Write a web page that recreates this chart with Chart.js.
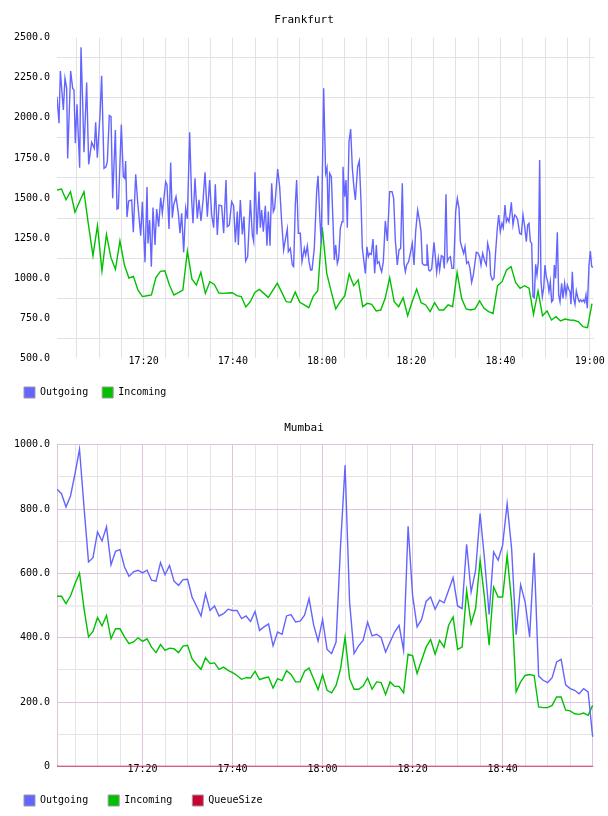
<!DOCTYPE html>
<html><head><meta charset="utf-8">
<script src="https://cdn.jsdelivr.net/npm/chart.js@4.4.1/dist/chart.umd.min.js"></script>
<style>
html,body{margin:0;padding:0;background:#fff;}
.box{position:relative;width:608px;height:408px;}
canvas{display:block;}
</style></head>
<body>
<div class="box"><canvas id="c1" width="608" height="408"></canvas></div>
<div class="box"><canvas id="c2" width="608" height="408"></canvas></div>
<script>
// ---------- Frankfurt ----------
// Outgoing: minutes after 17:00 and values
const fraOutTimes = [
0.58,1.03,1.33,2.00,2.37,2.75,2.97,3.64,4.09,4.39,
4.69,5.06,5.66,5.96,6.33,6.63,7.23,7.68,8.35,8.95,
9.25,9.62,10.22,10.59,11.12,11.56,11.86,12.31,12.69,13.06,
13.66,14.03,14.33,15.00,15.45,15.75,15.97,16.27,16.65,17.32,
17.69,18.22,18.66,19.34,19.71,20.31,20.76,20.98,21.35,21.73,
22.10,22.55,22.92,23.37,23.82,24.19,24.94,25.24,25.69,26.06,
26.43,26.73,27.26,27.78,28.15,28.53,28.98,29.42,29.80,30.32,
30.77,31.07,31.51,32.04,32.41,32.86,33.31,33.76,34.28,34.80,
35.25,35.70,36.07,36.52,36.89,37.49,37.94,38.46,38.76,39.21,
39.73,40.18,40.56,41.00,41.23,41.68,42.13,42.50,42.87,43.32,
43.92,44.37,44.67,44.96,45.41,45.86,46.16,46.46,46.83,47.28,
47.65,47.95,48.33,48.70,49.07,49.37,50.05,50.49,50.94,51.39,
51.69,52.21,52.44,52.88,53.33,53.63,54.00,54.30,54.68,55.13,
55.50,56.02,56.32,56.70,57.07,57.44,57.74,58.26,58.79,59.09,
59.54,59.83,60.36,60.80,
61.11,61.41,61.70,62.08,62.45,62.75,63.05,63.42,63.72,64.10,
64.47,64.69,65.07,65.37,65.66,66.04,66.41,66.79,67.16,67.46,
67.98,68.35,68.73,69.03,69.48,69.70,70.07,70.37,70.67,71.04,
71.42,71.79,72.17,72.39,72.76,73.06,73.36,73.73,74.18,74.63,
75.15,75.68,76.05,76.42,76.87,77.25,77.62,77.99,78.37,78.67,
78.96,79.41,79.86,80.23,80.61,80.98,81.43,81.88,82.18,82.48,
82.85,83.30,83.52,83.90,84.19,84.57,85.09,85.39,85.69,86.06,
86.36,86.74,87.11,87.41,87.78,88.08,88.38,88.75,89.13,89.50,
89.95,90.32,90.70,91.00,91.37,91.74,92.04,92.41,92.79,93.16,
93.53,93.91,94.21,94.58,94.95,95.33,95.63,96.00,96.45,96.82,
97.12,97.57,97.79,98.17,98.54,98.91,99.29,99.59,99.96,100.33,
100.63,101.01,101.31,101.60,101.90,102.20,102.43,102.80,103.17,103.55,
103.85,104.29,104.67,105.04,105.42,105.79,106.09,106.39,106.69,106.99,
107.28,107.58,107.88,108.18,108.48,108.78,109.08,109.38,109.68,109.97,
110.27,110.57,110.87,111.17,111.47,111.77,112.07,112.36,112.74,113.04,
113.34,113.71,114.01,114.38,114.68,114.98,115.28,115.58,115.80,116.10,
116.40,116.70,117.00,117.37,117.67,117.97,118.27,118.57,118.87,119.16,
119.46,119.84,120.14,120.44,120.73
];
const fraOutgoing = [
2132,1966,2292,2049,2246,2184,1747,2292,2184,2174,
1841,2084,1689,2440,2101,1785,2221,1710,1847,1810,
1972,1752,2018,2263,1685,1695,1727,2014,2007,1498,
1924,1431,1436,1959,1633,1623,1731,1381,1481,1488,
1286,1648,1477,1265,1477,1099,1569,1217,1363,1072,
1440,1207,1431,1321,1502,1404,1602,1581,1307,1722,
1377,1456,1508,1404,1280,1404,1161,1436,1369,1910,
1488,1342,1623,1373,1488,1357,1481,1660,1384,1612,
1394,1315,1585,1269,1456,1452,1280,1612,1321,1332,
1477,1452,1223,1415,1207,1488,1273,1384,1107,1134,
1488,1269,1228,1660,1273,1540,1315,1425,1290,1452,
1203,1415,1203,1592,1415,1436,1681,1571,1352,1176,
1228,1307,1165,1186,1082,1072,1456,1612,1280,1280,
1103,1186,1144,1201,1103,1051,1051,1186,1540,1639,
1352,1217,2184,1654,
1689,1332,1654,1633,1352,1113,1207,1092,1124,1311,
1352,1695,1508,1612,1315,1851,1930,1685,1560,1488,
1695,1731,1477,1186,1082,1030,1196,1134,1155,1149,
1244,1030,1207,1092,1103,1065,1040,1103,1357,1232,
1540,1540,1498,1238,1082,1176,1186,1592,1092,1040,
1082,1103,1165,1217,1082,1290,1425,1352,1290,1092,
1082,1082,1211,1051,1045,1057,1223,1134,1036,1124,
1051,1140,1134,1061,1523,1103,1124,1134,1061,1061,
1415,1498,1436,1228,1190,1155,1196,1092,1103,1061,
974,1020,1082,1161,1157,1134,1082,1155,1107,1082,
1217,1161,1020,989,999,1165,1311,1394,1290,1342,
1315,1456,1352,1373,1352,1415,1473,1332,1394,1384,
1363,1280,1273,1394,1321,1228,1332,1342,1228,1217,
885,878,1086,1020,1103,1737,978,885,937,1082,
1009,978,916,978,853,864,1082,999,1286,895,
853,968,874,968,895,957,932,916,837,1040,
874,837,920,874,853,864,853,864,849,895,
812,1082,1169,1072,1068
];
// Incoming: sampled about once a minute from 17:00:35
const fraInStart = 0.58, fraInStep = 1.0078;
const fraIncoming = [
1550,1556,1489,1539,1411,1477,1539,1332,1140,1328,
1045,1273,1128,1055,1232,1082,1001,1011,926,885,
890,895,1003,1042,1046,957,895,910,926,1169,
995,957,1036,905,978,961,907,905,907,909,
891,885,820,853,911,930,905,880,924,968,
911,853,849,913,849,833,816,887,922,1317,
1030,916,808,853,889,1026,953,989,822,843,
837,795,801,874,1003,853,822,878,766,853,
932,847,833,791,847,801,801,833,822,1036,
874,808,801,808,858,812,791,780,953,978,
1051,1072,974,937,953,937,774,920,766,795,
739,760,733,745,739,737,728,697,691,841
];

// ---------- Mumbai ----------
const mumStart = 1.0, mumStep = 1.0;
const mumOutgoing = [
862,848,807,841,910,986,807,636,649,729,
701,745,627,669,674,620,591,605,610,602,
610,579,576,634,596,625,576,563,581,582,
527,498,468,537,485,499,468,475,489,485,
485,460,468,451,482,423,434,443,375,418,
411,468,472,449,452,470,522,441,390,457,
364,351,387,688,936,511,351,375,392,449,
406,411,401,356,387,418,439,361,747,532,
434,457,513,527,489,517,509,548,587,499,
491,691,542,610,786,641,473,667,641,688,
817,677,410,565,511,403,664,281,268,261,
276,325,333,254,242,237,226,242,232,92
];
const mumIncoming = [
529,529,506,530,568,601,491,403,420,463,
437,470,397,428,428,403,382,387,400,389,
397,371,354,379,361,368,366,354,374,377,
335,317,302,338,320,322,302,309,299,292,
283,271,276,275,296,270,275,278,244,273,
267,298,286,263,263,296,306,273,239,285,
237,229,252,304,402,273,240,240,250,275,
240,263,261,224,263,249,249,229,349,344,
289,330,371,395,349,392,371,439,465,364,
371,546,444,491,641,522,377,558,527,527,
656,511,232,263,283,286,283,185,183,183,
190,216,216,175,173,164,162,166,159,190
];
const mumQueueSize = [
0,0,0,0,0,0,0,0,0,0, 0,0,0,0,0,0,0,0,0,0,
0,0,0,0,0,0,0,0,0,0, 0,0,0,0,0,0,0,0,0,0,
0,0,0,0,0,0,0,0,0,0, 0,0,0,0,0,0,0,0,0,0,
0,0,0,0,0,0,0,0,0,0, 0,0,0,0,0,0,0,0,0,0,
0,0,0,0,0,0,0,0,0,0, 0,0,0,0,0,0,0,0,0,0,
0,0,0,0,0,0,0,0,0,0, 0,0,0,0,0,0,0,0,0,0
];

// tick labels
const fraXLabels = ['17:20','17:40','18:00','18:20','18:40','19:00'];
const mumXLabels = ['17:20','17:40','18:00','18:20','18:40'];
const fraYLabels = ['500.0','750.0','1000.0','1250.0','1500.0','1750.0','2000.0','2250.0','2500.0'];
const mumYLabels = ['0','200.0','400.0','600.0','800.0','1000.0'];

const COL_OUT = '#6464ff', COL_IN = '#00c000', COL_Q = '#cc0033';
const FONT = "'DejaVu Sans Mono', monospace";

function fmtTime(m) {
  const t = Math.round(m);
  const h = 17 + Math.floor(t / 60);
  const mm = t % 60;
  return h + ':' + String(mm).padStart(2, '0');
}
function yLabel(v) { return v === 0 ? '0' : v.toFixed(1); }
function pts(times, vals) { return vals.map((v, i) => ({x: times[i], y: v})); }
function regular(start, step, vals) { return vals.map((v, i) => ({x: start + i * step, y: v})); }

function makeChart(id, c) {
  return new Chart(document.getElementById(id), {
    type: 'line',
    data: { datasets: c.datasets.map(d => ({
      label: d.label, data: d.data, borderColor: d.color, backgroundColor: d.color,
      borderWidth: 1.4, pointRadius: 0, tension: 0, fill: false
    })) },
    options: {
      responsive: false, animation: false, devicePixelRatio: 1,
      events: [],
      layout: { padding: { left: c.padL, right: c.padL, top: 0, bottom: 0 } },
      plugins: {
        title: { display: true, text: c.title, color: '#000',
          font: { family: FONT, size: 11, weight: 'normal' },
          padding: { top: 14, bottom: c.titleBottom } },
        legend: { position: 'bottom', align: 'start',
          labels: { font: { family: FONT, size: 10 }, color: '#000', boxWidth: 11, boxHeight: 11,
            padding: c.legPad,
            generateLabels: ch => ch.data.datasets.map((ds, i) => ({
              text: ds.label, fillStyle: ds.borderColor, strokeStyle: '#9a9a9a', lineWidth: 1,
              hidden: false, datasetIndex: i, fontColor: '#000'
            })) } },
        tooltip: { enabled: false }
      },
      scales: {
        x: { type: 'linear', min: c.xMin, max: c.xMax,
          afterFit: s => { s.height = c.xH; s.paddingLeft = 0; s.paddingRight = 0; },
          ticks: { stepSize: 5, includeBounds: false, autoSkip: false, maxRotation: 0, minRotation: 0,
            mirror: true, padding: -9, color: '#000', font: { family: FONT, size: 10 },
            callback: v => { const s = fmtTime(v); return c.xLabels.includes(s) ? s : ''; } },
          grid: { drawTicks: false, color: ctx => c.xGrid(ctx.tick ? ctx.tick.value : null), lineWidth: 1 },
          border: { display: false } },
        y: { type: 'linear', min: c.yMin, max: c.yMax,
          afterFit: s => { s.width = 57 - c.padL; s.paddingTop = 0; s.paddingBottom = 0; },
          ticks: { stepSize: c.yStep, autoSkip: false, padding: 7, color: '#000', font: { family: FONT, size: 10 },
            callback: v => { const s = yLabel(v); return c.yLabels.includes(s) ? s : ''; } },
          grid: { drawTicks: false, color: ctx => c.yGrid(ctx.tick ? ctx.tick.value : null),
            lineWidth: ctx => c.yGridW ? c.yGridW(ctx.tick ? ctx.tick.value : null) : 1 },
          border: { display: c.yBorder, color: '#dcc4dc' } },
        yR: { type: 'linear', position: 'right', display: true,
          afterFit: s => { s.width = 14 - c.padL; },
          ticks: { display: false }, grid: { display: false, drawTicks: false }, border: { display: false } }
      }
    }
  });
}

makeChart('c1', {
  title: 'Frankfurt', padL: 10, legPad: 14, titleBottom: 10.5, xH: 14.7,
  xMin: 0.58, xMax: 120.96, yMin: 500, yMax: 2500, yStep: 125,
  xLabels: fraXLabels, yLabels: fraYLabels, yBorder: false,
  xGrid: v => '#e2e2e2',
  yGrid: v => (v % 250 === 0 ? 'rgba(0,0,0,0)' : '#e2e2e2'),
  datasets: [
    { label: 'Outgoing', color: COL_OUT, data: pts(fraOutTimes, fraOutgoing) },
    { label: 'Incoming', color: COL_IN, data: regular(fraInStart, fraInStep, fraIncoming) }
  ]
});

makeChart('c2', {
  title: 'Mumbai', padL: 4, legPad: 20, titleBottom: 9.6, xH: 8.5,
  xMin: 1.0, xMax: 120.3, yMin: 0, yMax: 1000, yStep: 100,
  xLabels: mumXLabels, yLabels: mumYLabels, yBorder: true,
  xGrid: v => (v % 20 === 0 ? '#dcc4dc' : '#e4e4e4'),
  yGrid: v => (v === 500 ? '#eeeeee' : (v % 200 === 0 ? '#dcc4dc' : '#e4e4e4')),
  yGridW: v => (v === 500 ? 2 : 1),
  datasets: [
    { label: 'Outgoing', color: COL_OUT, data: regular(mumStart, mumStep, mumOutgoing) },
    { label: 'Incoming', color: COL_IN, data: regular(mumStart, mumStep, mumIncoming) },
    { label: 'QueueSize', color: COL_Q, data: regular(mumStart, mumStep, mumQueueSize) }
  ]
});
</script>
</body></html>
